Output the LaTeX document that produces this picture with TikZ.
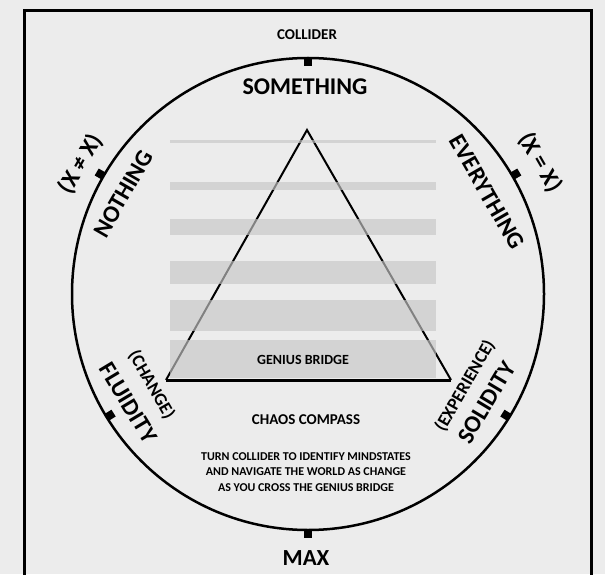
\documentclass[tikz,border=0pt]{standalone}
\usepackage{fontspec}
\setmainfont{Carlito}
\usetikzlibrary{calc}

\definecolor{bggray}{RGB}{236,236,236}
\definecolor{bargray}{RGB}{199,199,199}

\begin{document}
\begin{tikzpicture}[x=1pt,y=1pt,
  lbl/.style={font=\bfseries\fontsize{24}{26}\selectfont, inner sep=0pt},
  sublbl/.style={font=\bfseries\fontsize{18}{20}\selectfont, inner sep=0pt},
  small/.style={font=\bfseries\fontsize{14}{16}\selectfont, inner sep=0pt},
  tickmark/.style={fill=black, minimum size=8pt, inner sep=0pt},
  bar/.style={fill=bargray, fill opacity=0.65}]
\useasboundingbox (0,0) rectangle (605,574);
\clip (0,0) rectangle (605,574);
\fill[bggray] (0,0) rectangle (605,574);

% frame, open at the bottom
\draw[line width=3pt] (24,-20) -- (24,563) -- (591,563) -- (591,-20);

% compass ring
\coordinate (c) at (308,280);
\draw[line width=2.5pt] (c) circle (236);

% collider ticks
\node[tickmark] (tkN) at ($(c)+(90:232)$) {};
\node[tickmark] (tkS) at ($(c)+(270:240)$) {};
\node[tickmark,rotate=60] (tkNW) at ($(c)+(150:240)$) {};
\node[tickmark,rotate=-60] (tkNE) at ($(c)+(30:240)$) {};
\node[tickmark,rotate=-58] (tkSW) at ($(c)+(211.5:232)$) {};
\node[tickmark,rotate=58] (tkSE) at ($(c)+(-31.5:232)$) {};

% triangle
\coordinate (apex) at (307,444);
\coordinate (bl) at (166,194);
\coordinate (br) at (451,194);
\draw[line width=2pt] (bl) -- (apex) -- (br);
\draw[line width=3pt] (bl) -- (br);

% bridge planks
\fill[bar] (170,431) rectangle (436,433.5);
\foreach \ya/\yb in {384/392,339/355,290/313,243/274,196/234}
  \fill[bar] (170,\ya) rectangle (436,\yb);

% labels
\node[small,font=\bfseries\fontsize{15}{17}\selectfont] (collider) at (307,539) {COLLIDER};
\node[lbl] (something) at (305,487) {SOMETHING};
\node[lbl,rotate=60] (nothing) at ($(c)+(151.5:210)$) {NOTHING};
\node[lbl,rotate=60] (neq) at ($(c)+(150.2:262)$) {(X ≠ X)};
\node[lbl,rotate=-60] (everything) at ($(c)+(29.7:206)$) {EVERYTHING};
\node[lbl,rotate=-60] (eq) at ($(c)+(29.5:267)$) {(X = X)};
\node[lbl,rotate=-59] (fluidity) at ($(c)+(211.2:210)$) {FLUIDITY};
\node[sublbl,rotate=-60] (change) at ($(c)+(210.1:181)$) {(CHANGE)};
\node[lbl,rotate=59] (solidity) at ($(c)+(-31.3:209)$) {SOLIDITY};
\node[sublbl,rotate=60] (experience) at ($(c)+(-30.3:182)$) {(EXPERIENCE)};

\node[small] (bridge) at (303,214) {GENIUS BRIDGE};
\node[small,font=\bfseries\fontsize{15}{17}\selectfont] (compass) at (306,154) {CHAOS COMPASS};
\node[small,align=center,font=\bfseries\fontsize{12}{15.5}\selectfont] (howto) at (306,102)
  {TURN COLLIDER TO IDENTIFY MINDSTATES\\AND NAVIGATE THE WORLD AS CHANGE\\AS YOU CROSS THE GENIUS BRIDGE};
\node[lbl,font=\bfseries\fontsize{23}{25}\selectfont] (max) at (306,16) {MAX};
\end{tikzpicture}
\end{document}
